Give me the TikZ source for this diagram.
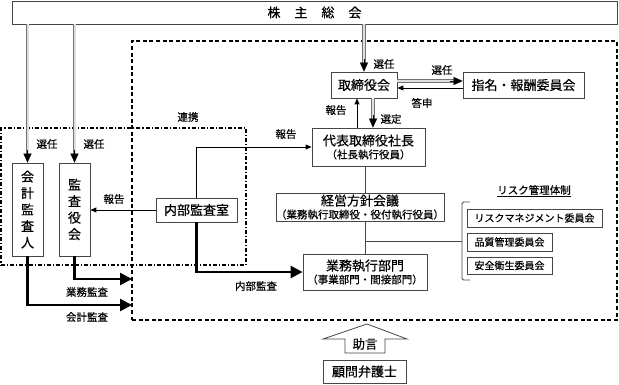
\documentclass[tikz,border=0pt]{standalone}
\usepackage{fontspec}
\setmainfont{Noto Sans CJK JP}[FakeBold=0.5]
\usetikzlibrary{arrows.meta,calc}
\begin{document}
\begin{tikzpicture}[x=1pt,y=-1pt,
  box/.style={draw=gray!55!black, line width=0.8pt, fill=white, inner sep=0pt, align=center},
  big/.style={font=\fontsize{13}{15}\selectfont},
  two/.style={box, font=\fontsize{10.5}{13}\selectfont},
  vert/.style={box, font=\fontsize{13}{16.5}\selectfont, minimum width=31pt, minimum height=93pt},
  lbl/.style={font=\fontsize{10.5}{12}\selectfont, inner sep=0pt},
  com/.style={box, font=\fontsize{10}{12}\selectfont},
  dbl/.style={draw=gray!90!black, double=gray!25, double distance=2pt, line width=0.8pt},
  dbltip/.style={-{Triangle[length=9pt,width=8pt]}, line width=0.1pt, black},
  sarrow/.style={-{Triangle[length=6pt,width=5pt]}, line width=0.9pt, black},
  tharrow/.style={-{Triangle[length=12pt,width=12pt]}, line width=2.6pt, black},
  conn/.style={draw=gray!55!black, line width=0.8pt},
  dashbox/.style={draw=black, line width=1.2pt, dash pattern=on 4pt off 2.6pt, inner sep=0pt},
  dotbox/.style={draw=black, line width=1.1pt, dash pattern=on 4pt off 2pt on 1.2pt off 2pt, inner sep=0pt}
]
\useasboundingbox (0,0) rectangle (619,384);

% grouping frames
\node[dashbox, minimum width=485pt, minimum height=279pt] (org) at (374.5,180.5) {};
\node[dotbox, minimum width=245pt, minimum height=137pt] (audit) at (123.5,196.5) {};

% main nodes
\node[box, big, minimum width=605pt, minimum height=23pt] (sh) at (314.5,12.5) {株\hspace{14pt}主\hspace{14pt}総\hspace{14pt}会};
\node[vert] (kaikei) at (27.5,209.5) {会\\計\\監\\査\\人};
\node[vert] (kansa) at (74.5,209.5) {監\\査\\役\\会};
\node[box, big, minimum width=81pt, minimum height=24pt] (naibu) at (196.5,210) {内部監査室};
\node[box, big, minimum width=66pt, minimum height=26pt] (tori) at (364,85) {取締役会};
\node[box, big, minimum width=121pt, minimum height=26pt] (shimei) at (523.5,85) {指名・報酬委員会};
\node[two, minimum width=113pt, minimum height=38pt] (daihyo) at (368.5,147)
  {{\fontsize{13}{15}\selectfont 代表取締役社長}\\{（社長執行役員）}};
\node[two, minimum width=166pt, minimum height=28pt] (keiei) at (360,207)
  {{\fontsize{13}{15}\selectfont 経営方針会議}\\{（業務執行取締役・役付執行役員）}};
\node[two, minimum width=124pt, minimum height=36pt] (gyomu) at (365,272)
  {{\fontsize{13}{15}\selectfont 業務執行部門}\\{（事業部門・間接部門）}};
\node[com, minimum width=135pt, minimum height=18pt] (risk) at (534.5,218) {リスクマネジメント委員会};
\node[com, minimum width=85pt, minimum height=18pt] (hin) at (509.5,242) {品質管理委員会};
\node[com, minimum width=85pt, minimum height=17pt] (anzen) at (509.5,265.5) {安全衛生委員会};
\node[box, big, minimum width=83pt, minimum height=23pt] (komon) at (364.5,371.5) {顧問弁護士};

% advice block arrow
\draw[draw=gray!55!black, line width=0.8pt, fill=white]
  (367,324) -- (407,339) -- (385,339) -- (385,353) -- (345,353) -- (345,339) -- (323,339) -- cycle;
\node[font=\fontsize{12.5}{14}\selectfont, inner sep=0pt] (jogen) at (365,344) {助言};

% appointments from shareholders (double arrows)
\draw[dbl] (sh.south -| kaikei.north) -- ([yshift=8pt]kaikei.north);
\draw[dbltip] ([yshift=13pt]kaikei.north) -- (kaikei.north);
\draw[dbl] (sh.south -| kansa.north) -- ([yshift=8pt]kansa.north);
\draw[dbltip] ([yshift=13pt]kansa.north) -- (kansa.north);
\draw[dbl] (sh.south -| tori.north) -- ([yshift=8pt]tori.north);
\draw[dbltip] ([yshift=13pt]tori.north) -- (tori.north);

% board <-> committee
\draw[dbl] ([yshift=4pt]tori.east) -- ([xshift=-8pt,yshift=4pt]shimei.west);
\draw[dbltip] ([xshift=-13pt,yshift=4pt]shimei.west) -- ([yshift=4pt]shimei.west);
\draw[sarrow] ([yshift=-3pt]shimei.west) -- ([yshift=-3pt]tori.east);

% board <-> president
\coordinate (repA) at ([xshift=-7pt]tori.south);
\coordinate (repB) at (repA |- daihyo.north);
\draw[sarrow] (repB) -- (repA);
\coordinate (selA) at ([xshift=9pt]tori.south);
\coordinate (selB) at (selA |- daihyo.north);
\draw[dbl] (selA) -- ([yshift=8pt]selB);
\draw[dbltip] ([yshift=13pt]selB) -- (selB);

% management chain
\draw[conn] (daihyo.south -| gyomu.north) -- (keiei.north -| gyomu.north);
\draw[conn] (keiei.south -| gyomu.north) -- (gyomu.north);
\coordinate (brk) at (462,241);
\coordinate (brkT) at (470,202);
\coordinate (brkB) at (470,280);
\draw[conn] (gyomu.north |- brk) -- (brk);
\draw[conn, rounded corners=1.5pt] (brkT) -- (brkT -| brk) -- (brkB -| brk) -- (brkB);

% internal audit office
\draw[sarrow] (naibu.north) |- (daihyo.west);
\draw[sarrow] (naibu.west) -- (naibu.west -| kansa.east);
\draw[tharrow] (naibu.south) |- (gyomu.west);

% audits
\coordinate (gkEnd) at (132,279);
\coordinate (kkEnd) at (132,305);
\draw[tharrow] (kansa.south) |- (gkEnd);
\draw[tharrow] (kaikei.south) |- (kkEnd);

% labels
\node[lbl] (l1) at (47,144) {選任};
\node[lbl] (l2) at (94,144) {選任};
\node[lbl] (l3) at (384,64) {選任};
\node[lbl] (l4) at (442,70) {選任};
\node[lbl] (l5) at (422,103) {答申};
\node[lbl] (l6) at (336,110) {報告};
\node[lbl] (l7) at (391,119) {選定};
\node[lbl] (l8) at (188,117) {連携};
\node[lbl] (l9) at (286,134) {報告};
\node[lbl] (l10) at (114,199) {報告};
\node[lbl] (l11) at (256,286) {内部監査};
\node[lbl] (l12) at (87,292) {業務監査};
\node[lbl] (l13) at (87,317) {会計監査};
\node[lbl] (l14) at (534,191) {\underline{リスク管理体制}};
\end{tikzpicture}
\end{document}
